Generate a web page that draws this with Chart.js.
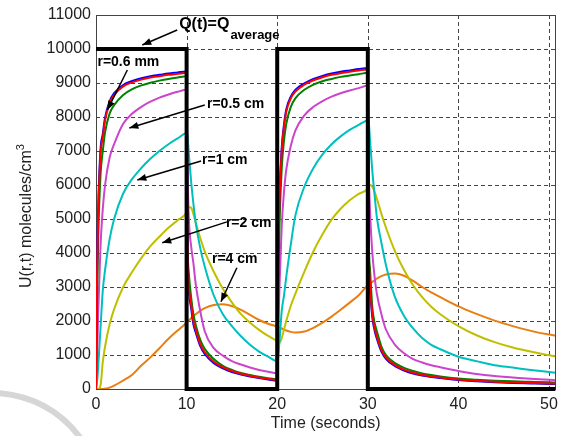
<!DOCTYPE html>
<html>
<head>
<meta charset="utf-8">
<script src="https://cdn.jsdelivr.net/npm/chart.js@4.4.0/dist/chart.umd.min.js"></script>
<style>
  html, body { margin: 0; padding: 0; background: #fff; }
</style>
</head>
<body>
<canvas id="chart" width="564" height="436"></canvas>
<script>
// time samples (seconds), shared by all concentration curves
const time = [
  0, 0.1, 0.25, 0.5, 0.75, 1, 1.5, 2, 3, 4, 5, 6, 7, 8, 9, 10,
  10.1, 10.25, 10.5, 10.75, 11, 11.5, 12, 13, 14, 15, 16, 17, 18, 19, 20,
  20.1, 20.25, 20.5, 20.75, 21, 21.5, 22, 23, 24, 25, 26, 27, 28, 29, 30,
  30.1, 30.25, 30.5, 30.75, 31, 31.5, 32, 33, 34, 35, 36, 37, 38, 40, 42, 44, 46, 48, 50, 50.7
];

// U(r,t), one array per radius
const uBlue = [
  0, 3200, 5400, 7050, 7500, 7980, 8460, 8700, 8940, 9060, 9140, 9200, 9240, 9280, 9310, 9340,
  4000, 2850, 2380, 1900, 1670, 1270, 1030, 760, 610, 500, 425, 365, 320, 280, 245,
  3700, 5650, 7100, 7780, 8220, 8600, 8800, 8990, 9120, 9210, 9280, 9330, 9370, 9410, 9440,
  4100, 2950, 2100, 1720, 1480, 1100, 890, 670, 545, 455, 400, 350, 320, 265, 230, 200, 180, 165, 150, 145
];
const uRed = [
  0, 3000, 5200, 6900, 7400, 7900, 8400, 8650, 8900, 9020, 9100, 9160, 9200, 9240, 9270, 9300,
  4200, 3000, 2500, 2000, 1750, 1330, 1080, 800, 640, 530, 450, 390, 340, 300, 265,
  3500, 5500, 7000, 7700, 8150, 8550, 8750, 8950, 9080, 9170, 9240, 9290, 9330, 9370, 9400,
  4300, 3100, 2200, 1800, 1550, 1150, 930, 700, 570, 480, 420, 370, 340, 280, 245, 215, 195, 180, 165, 160
];
const uGreen = [
  0, 2500, 4500, 6300, 7000, 7550, 8100, 8350, 8650, 8820, 8930, 9010, 9070, 9120, 9160, 9200,
  4500, 3400, 2700, 2200, 1900, 1450, 1180, 880, 680, 560, 470, 410, 360, 320, 290,
  2800, 4800, 6500, 7300, 7800, 8300, 8550, 8800, 8950, 9050, 9120, 9180, 9220, 9260, 9300,
  4600, 3500, 2400, 1950, 1700, 1250, 1000, 760, 620, 530, 460, 410, 370, 310, 275, 245, 225, 210, 195, 190
];
const uMagenta = [
  0, 800, 2300, 4200, 5300, 6000, 6800, 7200, 7800, 8100, 8300, 8450, 8570, 8660, 8740, 8800,
  6500, 5000, 4200, 3700, 3100, 2300, 1700, 1200, 980, 820, 720, 630, 560, 510, 470,
  1500, 3000, 4800, 5800, 6450, 7150, 7600, 8050, 8300, 8470, 8600, 8700, 8780, 8850, 8920,
  6600, 5200, 4000, 3300, 2800, 2200, 1750, 1300, 1050, 880, 780, 700, 640, 530, 440, 380, 340, 300, 270, 260
];
const uCyan = [
  0, 150, 700, 1800, 2900, 3500, 4400, 5000, 5750, 6180, 6500, 6770, 7000, 7200, 7370, 7520,
  7450, 6900, 6100, 5450, 4900, 4150, 3600, 2750, 2200, 1850, 1550, 1300, 1100, 950, 820,
  900, 1400, 2300, 2750, 3300, 4250, 5100, 5950, 6500, 6900, 7200, 7430, 7620, 7770, 7900,
  7850, 7300, 6400, 5700, 5050, 4300, 3650, 2700, 2150, 1780, 1500, 1300, 1170, 950, 820, 700, 630, 560, 500, 480
];
const uYellow = [
  0, 0, 0, 100, 800, 1250, 1900, 2350, 3000, 3450, 3850, 4200, 4480, 4740, 4960, 5200,
  5280, 5350, 5330, 5150, 4900, 4450, 4050, 3450, 2950, 2550, 2200, 1950, 1740, 1560, 1400,
  1370, 1370, 1500, 1750, 2000, 2450, 2800, 3450, 4050, 4550, 4980, 5300, 5550, 5740, 5900,
  5960, 6000, 5950, 5800, 5600, 5150, 4750, 4050, 3500, 3050, 2700, 2420, 2200, 1850, 1580, 1380, 1220, 1100, 990, 960
];
const uOrange = [
  0, 0, 0, 0, 0, 10, 40, 100, 250, 420, 690, 930, 1200, 1480, 1720, 1950,
  1980, 2020, 2080, 2140, 2200, 2300, 2380, 2470, 2490, 2440, 2330, 2180, 2030, 1920, 1840,
  1830, 1810, 1780, 1750, 1720, 1680, 1660, 1690, 1800, 1950, 2130, 2330, 2540, 2760, 3050,
  3070, 3100, 3150, 3200, 3250, 3320, 3370, 3400, 3330, 3180, 3000, 2840, 2700, 2430, 2210, 2010, 1850, 1710, 1600, 1570
];

// source term Q(t): square pulses
const qTime = [0, 10, 10, 20, 20, 30, 30, 50.7];
const qValue = [10000, 10000, 0, 0, 10000, 10000, 0, 0];

// axis ticks
const xTickValues = [0, 10, 20, 30, 40, 50];
const yTickValues = [0, 1000, 2000, 3000, 4000, 5000, 6000, 7000, 8000, 9000, 10000, 11000];

const FONT = '"Liberation Sans", Arial, sans-serif';

const pts = (xs, ys) => xs.map((x, i) => ({ x: x, y: ys[i] }));

function curve(values, color) {
    return {
        data: pts(time, values),
        borderColor: color,
        borderWidth: 2,
        pointRadius: 0,
        cubicInterpolationMode: 'monotone',
        fill: false
    };
}

// text labels with arrows, in data coordinates
const notes = [
    { text: 'r=0.6 mm', at: [0.16, 9618], from: [3.46, 9383], to: [1.26, 8208] },
    { text: 'r=0.5 cm', at: [12.25, 8383], from: [12.0, 8354], to: [3.68, 7678] },
    { text: 'r=1 cm', at: [11.7, 6736], from: [11.6, 6707], to: [4.56, 6149] },
    { text: 'r=2 cm', at: [14.34, 4886], from: [14.45, 4916], to: [7.31, 4299] },
    { text: 'r=4 cm', at: [12.8, 3829], from: [15.55, 3565], to: [13.79, 2565] }
];

function drawArrow(ctx, x1, y1, x2, y2) {
    ctx.beginPath();
    ctx.moveTo(x1, y1);
    ctx.lineTo(x2, y2);
    ctx.lineWidth = 1.5;
    ctx.strokeStyle = '#000';
    ctx.stroke();
    const a = Math.atan2(y2 - y1, x2 - x1);
    const len = 9, half = 3.5;
    ctx.beginPath();
    ctx.moveTo(x2, y2);
    ctx.lineTo(x2 - len * Math.cos(a) + half * Math.sin(a), y2 - len * Math.sin(a) - half * Math.cos(a));
    ctx.lineTo(x2 - len * Math.cos(a) - half * Math.sin(a), y2 - len * Math.sin(a) + half * Math.cos(a));
    ctx.closePath();
    ctx.fillStyle = '#000';
    ctx.fill();
}

const decorations = {
    id: 'decorations',
    beforeDatasetsDraw(chart) {
        const { ctx, chartArea: a } = chart;
        const sx = chart.scales.x, sy = chart.scales.y;
        ctx.save();
        // dotted grid, matlab style
        ctx.setLineDash([4, 3]);
        ctx.strokeStyle = '#444';
        ctx.lineWidth = 1;
        xTickValues.forEach(v => {
            const px = Math.round(sx.getPixelForValue(v)) + 0.5;
            ctx.beginPath();
            ctx.moveTo(px, a.top);
            ctx.lineTo(px, a.bottom);
            ctx.stroke();
        });
        yTickValues.forEach(v => {
            const py = Math.round(sy.getPixelForValue(v)) + 0.5;
            ctx.beginPath();
            ctx.moveTo(a.left, py);
            ctx.lineTo(a.right, py);
            ctx.stroke();
        });
        ctx.setLineDash([]);
        ctx.strokeStyle = '#444';
        ctx.strokeRect(Math.round(a.left) + 0.5, Math.round(a.top) + 0.5,
            Math.round(a.right - a.left), Math.round(a.bottom - a.top));
        ctx.restore();
    },
    afterDraw(chart) {
        const { ctx, chartArea: a } = chart;
        const sx = chart.scales.x, sy = chart.scales.y;
        ctx.save();

        // faint watermark arc, bottom left
        ctx.beginPath();
        ctx.moveTo(-5, 393);
        ctx.quadraticCurveTo(50, 396, 82, 440);
        ctx.strokeStyle = '#d6d6d6';
        ctx.lineWidth = 6;
        ctx.stroke();

        // axis titles
        ctx.fillStyle = '#222';
        ctx.font = '16px ' + FONT;
        ctx.textAlign = 'center';
        ctx.textBaseline = 'middle';
        ctx.fillText('Time (seconds)', (a.left + a.right) / 2, 424);

        ctx.translate(27, 216);
        ctx.rotate(-Math.PI / 2);
        const main = 'U(r,t) molecules/cm';
        const wMain = ctx.measureText(main).width;
        ctx.font = '11px ' + FONT;
        const wSup = ctx.measureText('3').width;
        const start = -(wMain + wSup) / 2;
        ctx.textAlign = 'left';
        ctx.fillText('3', start + wMain, -6);
        ctx.font = '16px ' + FONT;
        ctx.fillText(main, start, 0);
        ctx.setTransform(1, 0, 0, 1, 0, 0);

        // Q(t)=Q_average label
        ctx.fillStyle = '#000';
        ctx.textAlign = 'left';
        ctx.font = 'bold 16px ' + FONT;
        const qx = sx.getPixelForValue(9.18), qy = sy.getPixelForValue(10708);
        ctx.fillText('Q(t)=Q', qx, qy);
        const wq = ctx.measureText('Q(t)=Q').width;
        ctx.font = 'bold 13px ' + FONT;
        ctx.fillText('average', qx + wq + 1, qy + 10);
        drawArrow(ctx, sx.getPixelForValue(8.96), sy.getPixelForValue(10558),
            sx.getPixelForValue(5.11), sy.getPixelForValue(10118));

        // radius labels
        ctx.font = 'bold 14px ' + FONT;
        notes.forEach(n => {
            drawArrow(ctx, sx.getPixelForValue(n.from[0]), sy.getPixelForValue(n.from[1]),
                sx.getPixelForValue(n.to[0]), sy.getPixelForValue(n.to[1]));
            ctx.fillStyle = '#000';
            ctx.fillText(n.text, sx.getPixelForValue(n.at[0]), sy.getPixelForValue(n.at[1]));
        });
        ctx.restore();
    }
};

const ctx = document.getElementById('chart').getContext('2d');

new Chart(ctx, {
    type: 'line',
    data: {
        datasets: [
            {
                data: pts(qTime, qValue),
                borderColor: '#000',
                borderWidth: 4,
                pointRadius: 0,
                tension: 0,
                clip: 6
            },
            curve(uRed, '#ff0000'),
            curve(uBlue, '#0000ff'),
            curve(uGreen, '#008000'),
            curve(uMagenta, '#cc44cc'),
            curve(uCyan, '#00bfbf'),
            curve(uYellow, '#bfbf00'),
            curve(uOrange, '#e87f10')
        ]
    },
    options: {
        responsive: false,
        animation: false,
        layout: { padding: { left: 0, right: 6, top: 15, bottom: 0 } },
        plugins: {
            legend: { display: false },
            tooltip: { enabled: false }
        },
        scales: {
            x: {
                type: 'linear',
                min: 0,
                max: 50.7,
                afterFit: s => { s.height = 47; },
                afterBuildTicks: s => { s.ticks = xTickValues.map(v => ({ value: v })); },
                border: { display: false },
                grid: { display: false, drawTicks: false },
                ticks: {
                    padding: 6,
                    color: '#222',
                    font: { family: FONT, size: 16 },
                    maxRotation: 0,
                    callback: v => String(v)
                }
            },
            y: {
                min: 0,
                max: 11000,
                afterFit: s => { s.width = 96; },
                afterBuildTicks: s => { s.ticks = yTickValues.map(v => ({ value: v })); },
                border: { display: false },
                grid: { display: false, drawTicks: false },
                ticks: {
                    padding: 5,
                    color: '#222',
                    font: { family: FONT, size: 16 },
                    callback: v => String(v)
                }
            }
        }
    },
    plugins: [decorations]
});
</script>
</body>
</html>
